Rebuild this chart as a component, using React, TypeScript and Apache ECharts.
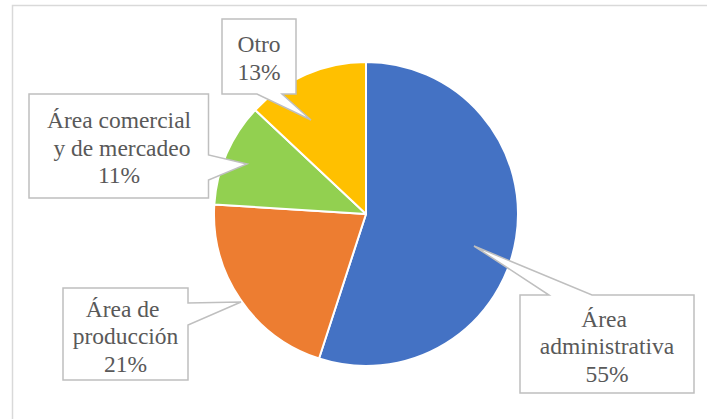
import React, { useEffect, useRef } from "react";
import * as echarts from "echarts";

const categories = ["Área administrativa", "Área de producción", "Área comercial y de mercadeo", "Otro"];
const values = [55, 21, 11, 13];
const colors = ["#4472C4", "#ED7D31", "#92D050", "#FFC000"];

// callout layout (box + wedge outline, text centre, wrap width)
const callouts = [
  { pts: [[520, 295], [549, 295], [474, 246], [592, 295], [694, 295], [694, 393], [520, 393]], cx: 607, cy: 346, wrap: 150 },
  { pts: [[63, 288], [188, 288], [188, 303], [241, 302], [188, 325], [188, 380], [63, 380]], cx: 125.5, cy: 336, wrap: 120 },
  { pts: [[29, 94], [208.5, 94], [208.5, 155], [247, 164], [208.5, 180], [208.5, 198], [29, 198]], cx: 119, cy: 147.5, wrap: 152 },
  { pts: [[222, 19], [296, 19], [296, 94], [282, 94], [311, 120], [257, 94], [222, 94]], cx: 259, cy: 58, wrap: 70 },
];

export default function App() {
  const ref = useRef<HTMLDivElement>(null);
  useEffect(() => {
    if (!ref.current) return;
    const chart = echarts.init(ref.current, null, { renderer: "svg" });
    const total = values.reduce((a, b) => a + b, 0);
    const graphics: any[] = [
      {
        type: "rect",
        z: 0,
        silent: true,
        shape: { x: 12.5, y: 5.5, width: 720, height: 440 },
        style: { fill: "none", stroke: "#D9D9D9", lineWidth: 1.5 },
      },
    ];
    callouts.forEach((c) => {
      graphics.push({
        type: "polygon",
        z: 5,
        silent: true,
        shape: { points: c.pts },
        style: { fill: "#FFFFFF", stroke: "#BFBFBF", lineWidth: 1.5 },
      });
    });
    const titles = callouts.map((c, i) => ({
      text: categories[i] + "\n" + Math.round((values[i] / total) * 100) + "%",
      left: c.cx,
      top: c.cy,
      textAlign: "center",
      textVerticalAlign: "middle",
      padding: 0,
      z: 8,
      textStyle: {
        width: c.wrap,
        overflow: "break",
        fontFamily: "Liberation Serif",
        fontSize: 23.5,
        fontWeight: "normal",
        lineHeight: 27.5,
        color: "#595959",
        align: "center",
      },
    }));
    chart.setOption({
      animation: false,
      backgroundColor: "#FFFFFF",
      title: titles,
      graphic: graphics,
      series: [
        {
          type: "pie",
          center: [366, 214],
          radius: 152,
          startAngle: 90,
          clockwise: true,
          silent: true,
          label: { show: false },
          labelLine: { show: false },
          emphasis: { disabled: true },
          itemStyle: { borderColor: "#FFFFFF", borderWidth: 2 },
          data: categories.map((n, i) => ({ name: n, value: values[i], itemStyle: { color: colors[i] } })),
        },
      ],
    });
    return () => chart.dispose();
  }, []);
  return <div ref={ref} style={{ position: "fixed", left: 0, top: 0, width: 707, height: 419 }} />;
}
